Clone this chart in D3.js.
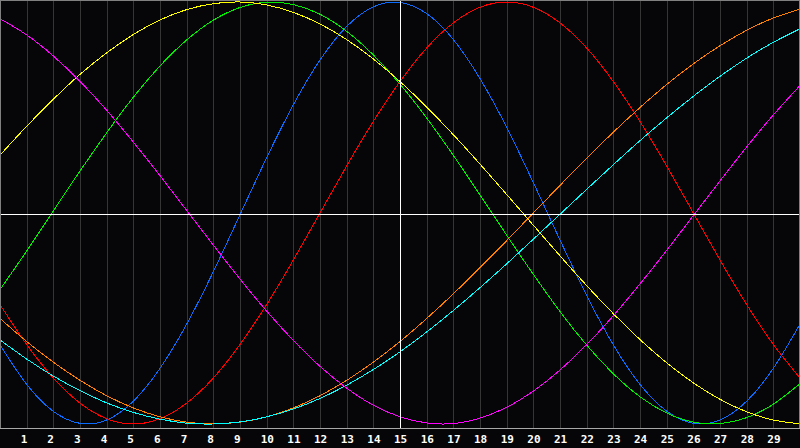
<!DOCTYPE html>
<html lang="en">
<head>
  <meta charset="UTF-8" />
  <title>Biorhythm</title>
  <script src="https://d3js.org/d3.v7.min.js"></script>
  <style>
    body { margin: 0; background: #060608; }
    svg { display: block; }
    .grid line { stroke: #353535; stroke-width: 1px; shape-rendering: crispEdges; }
    .curve { fill: none; stroke-width: 1px; shape-rendering: crispEdges; }
    .lbl { fill: #fff; font: bold 11px "DejaVu Sans Mono", monospace; }
  </style>
</head>
<body>
  <svg width="800" height="448"></svg>
  <script>
    // day index of each sample (0 .. 30)
    const days = d3.range(0, 31);
    // tick labels under the grid lines
    const dayLabels = d3.range(1, 30);
    const today = 15;

    // values, one per day, -1 .. 1
    const physical =     [-0.625,-0.812,-0.940,-0.997,-0.981,-0.892,-0.736,-0.527,-0.278,-0.008,0.262,0.513,0.725,0.884,0.977,0.998,0.945,0.822,0.637,0.406,0.144,-0.128,-0.391,-0.625,-0.812,-0.939,-0.997,-0.981,-0.892,-0.736,-0.527];
    const emotional =    [-0.434,-0.623,-0.782,-0.901,-0.975,-1.000,-0.975,-0.901,-0.782,-0.623,-0.434,-0.223,0.000,0.223,0.434,0.623,0.782,0.901,0.975,1.000,0.975,0.901,0.782,0.623,0.434,0.223,0.000,-0.223,-0.434,-0.623,-0.782];
    const intellectual = [-0.363,-0.180,0.010,0.199,0.380,0.549,0.697,0.820,0.914,0.974,0.999,0.988,0.942,0.861,0.749,0.611,0.450,0.273,0.086,-0.105,-0.291,-0.467,-0.626,-0.762,-0.871,-0.948,-0.991,-0.998,-0.970,-0.906,-0.809];
    const intuitive =    [0.921,0.844,0.744,0.624,0.487,0.336,0.177,0.012,-0.152,-0.313,-0.465,-0.604,-0.727,-0.830,-0.911,-0.966,-0.995,-0.998,-0.972,-0.921,-0.844,-0.744,-0.624,-0.487,-0.336,-0.177,-0.012,0.152,0.313,0.465,0.604];
    const aesthetic =    [0.274,0.411,0.539,0.657,0.759,0.846,0.915,0.964,0.992,1.000,0.986,0.951,0.896,0.822,0.730,0.623,0.502,0.371,0.232,0.088,-0.058,-0.203,-0.344,-0.477,-0.600,-0.710,-0.805,-0.883,-0.942,-0.981,-0.999];
    const awareness =    [-0.500,-0.609,-0.707,-0.793,-0.866,-0.924,-0.966,-0.991,-1.000,-0.991,-0.966,-0.924,-0.866,-0.793,-0.707,-0.609,-0.500,-0.383,-0.259,-0.131,0.000,0.131,0.259,0.383,0.500,0.609,0.707,0.793,0.866,0.924,0.966];
    const spiritual =    [-0.602,-0.692,-0.773,-0.842,-0.900,-0.945,-0.977,-0.996,-1.000,-0.990,-0.966,-0.929,-0.879,-0.816,-0.742,-0.658,-0.564,-0.462,-0.354,-0.241,-0.124,-0.006,0.112,0.229,0.343,0.451,0.553,0.648,0.734,0.809,0.873];

    const series = [
      { name: "physical", values: physical, color: "#0a6cff" },
      { name: "emotional", values: emotional, color: "#ff0000" },
      { name: "intellectual", values: intellectual, color: "#00ee00" },
      { name: "awareness", values: awareness, color: "#ff8000" },
      { name: "spiritual", values: spiritual, color: "#00ffff" },
      { name: "aesthetic", values: aesthetic, color: "#ffff00" },
      { name: "intuitive", values: intuitive, color: "#ff00ff" }
    ];

    const W = 800, plotH = 428;
    const svg = d3.select("svg");

    const x = d3.scaleLinear().domain([0, 30]).range([0, W]);
    const y = d3.scaleLinear().domain([-1, 1]).range([424, 2]);

    // vertical grid
    svg.append("g").attr("class", "grid")
      .selectAll("line")
      .data(dayLabels)
      .join("line")
      .attr("x1", d => Math.round(x(d)) + 0.5)
      .attr("x2", d => Math.round(x(d)) + 0.5)
      .attr("y1", 0)
      .attr("y2", plotH);

    // curves
    const line = d3.line()
      .x((d, i) => x(days[i]))
      .y(d => y(d))
      .curve(d3.curveNatural);

    svg.append("g")
      .selectAll("path")
      .data(series)
      .join("path")
      .attr("class", "curve")
      .attr("stroke", d => d.color)
      .attr("d", d => line(d.values));

    // zero line and today line
    svg.append("line")
      .attr("x1", 0).attr("x2", W)
      .attr("y1", Math.round(y(0)) + 1.5).attr("y2", Math.round(y(0)) + 1.5)
      .attr("stroke", "#fff").attr("shape-rendering", "crispEdges");
    svg.append("line")
      .attr("x1", Math.round(x(today)) + 0.5).attr("x2", Math.round(x(today)) + 0.5)
      .attr("y1", 0).attr("y2", plotH)
      .attr("stroke", "#fff").attr("shape-rendering", "crispEdges");

    // frame
    svg.append("rect")
      .attr("x", 0.5).attr("y", 0.5)
      .attr("width", W - 1).attr("height", plotH)
      .attr("fill", "none").attr("stroke", "#808080")
      .attr("shape-rendering", "crispEdges");
    svg.append("line")
      .attr("x1", 0).attr("x2", W)
      .attr("y1", plotH + 0.5).attr("y2", plotH + 0.5)
      .attr("stroke", "#a8a8a8").attr("shape-rendering", "crispEdges");

    // day labels
    svg.append("g")
      .selectAll("text")
      .data(dayLabels)
      .join("text")
      .attr("class", "lbl")
      .attr("x", d => x(d) - 6)
      .attr("y", 443)
      .text(d => d);
  </script>
</body>
</html>
